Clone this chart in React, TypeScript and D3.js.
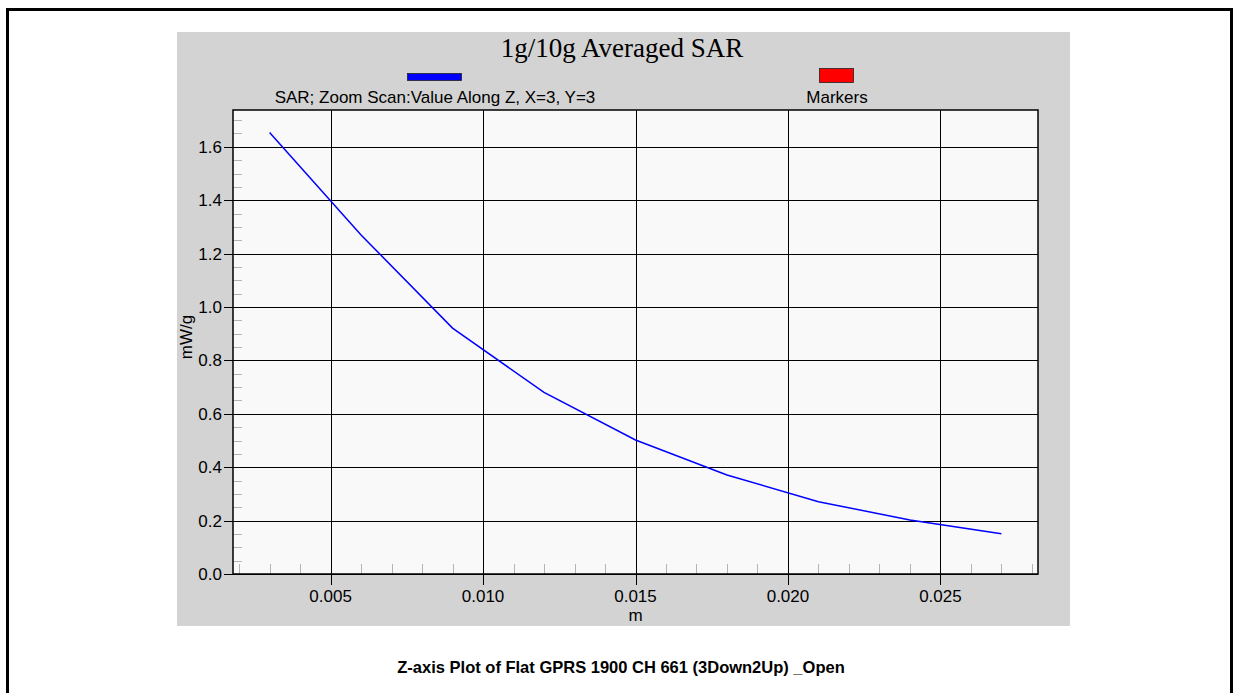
import * as d3 from "d3";

// values
const depth = [0.003, 0.006, 0.009, 0.012, 0.015, 0.018, 0.021, 0.024, 0.027];
const sar = [1.654, 1.27, 0.921, 0.68, 0.502, 0.371, 0.271, 0.202, 0.151];
const xTicks = [0.005, 0.01, 0.015, 0.02, 0.025];
const yTicks = [0, 0.2, 0.4, 0.6, 0.8, 1.0, 1.2, 1.4, 1.6];
const title = "1g/10g Averaged SAR";
const seriesName = "SAR; Zoom Scan:Value Along Z, X=3, Y=3";
const markerName = "Markers";
const caption = "Z-axis Plot of Flat GPRS 1900 CH 661 (3Down2Up) _Open";

const App = () => {
  const width = 1234,
    height = 693;
  const left = 233,
    right = 1038,
    top = 110,
    bottom = 574;

  const x = d3.scaleLinear([0.0018, 0.0282], [left, right]);
  const y = d3.scaleLinear([0, 1.738], [bottom, top]);
  const line = d3.line<number>((d, i) => x(depth[i]), (d) => y(d));

  const xMinor = d3.range(2, 29).map((v) => v / 1000).filter((v) => Math.round(v * 1000) % 5 !== 0);
  const yMinor = d3.range(1, 35).map((v) => v * 0.05).filter((v, i) => (i + 1) % 4 !== 0);

  const sans = "'Liberation Sans', Arial, sans-serif";

  return (
    <svg
      width={width}
      height={height}
      style={{ position: "absolute", left: 0, top: 0, background: "#fff" }}
    >
      <rect x={7.5} y={9.5} width={1224} height={720} fill="#fff" stroke="#000" strokeWidth={3} />
      <rect x={177} y={32} width={893} height={594} fill="#d3d3d3" />
      <rect x={left} y={top} width={right - left} height={bottom - top} fill="#f9f9f9" />

      <text x={622} y={57} textAnchor="middle" fontFamily="'Liberation Serif', 'Times New Roman', serif" fontSize={27}>
        {title}
      </text>

      {/* legend */}
      <rect x={407.5} y={73.5} width={54} height={7} fill="#0000ff" stroke="#222" strokeWidth={0.8} />
      <text x={435} y={103} textAnchor="middle" fontFamily={sans} fontSize={17}>
        {seriesName}
      </text>
      <rect x={819.5} y={68.5} width={34} height={14} fill="#ff0000" stroke="#222" strokeWidth={0.8} />
      <text x={837} y={103} textAnchor="middle" fontFamily={sans} fontSize={17}>
        {markerName}
      </text>

      {/* minor ticks */}
      <g stroke="#b4b4b4" strokeWidth={1}>
        {xMinor.map((v) => (
          <line key={"xm" + v} x1={Math.round(x(v)) + 0.5} x2={Math.round(x(v)) + 0.5} y1={bottom} y2={bottom - 10} />
        ))}
        {yMinor.map((v) => (
          <line key={"ym" + v} x1={left} x2={left + 9} y1={Math.round(y(v)) + 0.5} y2={Math.round(y(v)) + 0.5} />
        ))}
      </g>

      {/* grid + major ticks */}
      <g stroke="#000" strokeWidth={1}>
        {xTicks.map((v) => (
          <line key={"xg" + v} x1={Math.round(x(v)) + 0.5} x2={Math.round(x(v)) + 0.5} y1={top} y2={bottom + 11} />
        ))}
        {yTicks.map((v) => (
          <line key={"yg" + v} x1={left - 9} x2={right} y1={Math.round(y(v)) + 0.5} y2={Math.round(y(v)) + 0.5} />
        ))}
      </g>
      <rect x={left} y={top} width={right - left} height={bottom - top} fill="none" stroke="#000" strokeWidth={1.5} />

      <g fontFamily={sans} fontSize={17} fill="#000">
        {xTicks.map((v) => (
          <text key={"xl" + v} x={x(v)} y={602} textAnchor="middle">
            {d3.format(".3f")(v)}
          </text>
        ))}
        {yTicks.map((v) => (
          <text key={"yl" + v} x={222} y={y(v) + 6} textAnchor="end">
            {d3.format(".1f")(v)}
          </text>
        ))}
        <text x={x(0.015)} y={621} textAnchor="middle">
          m
        </text>
        <text transform="translate(192, 337) rotate(-90)" textAnchor="middle">
          mW/g
        </text>
      </g>

      <path d={line(sar) ?? ""} fill="none" stroke="#0000ff" strokeWidth={1.5} />

      <text x={621} y={673} textAnchor="middle" fontFamily={sans} fontSize={16.5} fontWeight="bold">
        {caption}
      </text>
    </svg>
  );
};

export default App;
